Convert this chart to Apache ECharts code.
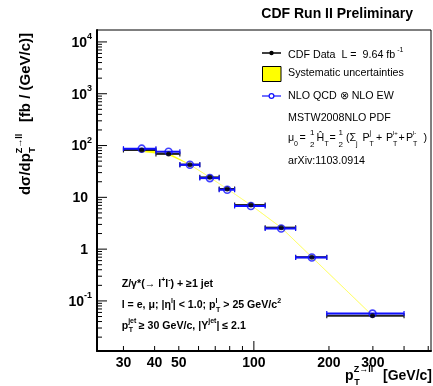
<!DOCTYPE html>
<html><head><meta charset="utf-8">
<script src="https://cdn.jsdelivr.net/npm/echarts@6/dist/echarts.min.js"></script>
<style>html,body{margin:0;padding:0;background:#fff}#c{width:433px;height:386px}</style>
</head><body><div id="c"></div>
<script>
// ---- data ----
const binLow    = [30, 40.5, 50.5, 60.7, 72.6, 83.7, 111, 147, 196];
const binHigh   = [40.5, 50.5, 60.7, 72.6, 83.7, 111, 147, 196, 400];
const binCenter = [35.5, 45.5, 55.4, 66.6, 78.2, 97.3, 128.7, 170.8, 299];
const dataY     = [82, 69, 42.8, 24.3, 14.5, 7.1, 2.6, 0.70, 0.052];
const predY     = [87, 76, 42.5, 23.5, 14.0, 6.8, 2.5, 0.69, 0.057];
const sysLow    = [76, 66, 42.6, 24.2, 14.45, 7.07, 2.59, 0.697, 0.0518];
const sysHigh   = [86, 71.5, 43.0, 24.4, 14.55, 7.13, 2.61, 0.703, 0.0522];

const xTickLabels = [30, 40, 50, 100, 200, 300];
const xMajorTicks = [100];
const xMinorTicks = [30, 40, 50, 60, 70, 80, 90, 200, 300, 400, 500];
const yDecades    = [0.1, 1, 10, 100, 1000, 10000];
const yLabelBase  = ['10', '1', '10', '10', '10', '10'];
const yLabelExp   = ['-1', '', '', '2', '3', '4'];

const X_MIN = 23.5, X_MAX = 513, Y_MIN = 0.0108, Y_MAX = 17000;
const FF = '"Liberation Sans", Arial, Helvetica, sans-serif';

const yMinorTicks = [];
[0.01, 0.1, 1, 10, 100, 1000, 10000].forEach(d => {
  for (let k = 2; k <= 9; k++) { const v = d * k; if (v > Y_MIN && v < Y_MAX) yMinorTicks.push(v); }
});

const chart = echarts.init(document.getElementById('c'), null, {renderer: 'canvas'});

const bandData = binCenter.slice(0, -1).map((c, i) =>
  [c, sysLow[i], sysHigh[i], binCenter[i + 1], sysLow[i + 1], sysHigh[i + 1]]);

function barSeries(yArr, color, z, lw) {
  return {
    type: 'custom', z: z, silent: true, clip: false,
    data: binLow.map((l, i) => [l, binHigh[i], yArr[i]]),
    encode: {x: [0, 1], y: 2},
    renderItem: (p, api) => {
      const y = api.value(2);
      const a = api.coord([api.value(0), y]), b = api.coord([api.value(1), y]);
      return {type: 'group', children: [
        {type: 'line', shape: {x1: a[0], y1: a[1], x2: b[0], y2: b[1]}, style: {stroke: color, lineWidth: lw}},
        {type: 'line', shape: {x1: a[0], y1: a[1] - 2.5, x2: a[0], y2: a[1] + 2.5}, style: {stroke: color, lineWidth: 1.2}},
        {type: 'line', shape: {x1: b[0], y1: b[1] - 2.5, x2: b[0], y2: b[1] + 2.5}, style: {stroke: color, lineWidth: 1.2}}
      ]};
    }
  };
}

const xTickData = xMinorTicks.map(v => [v, Y_MIN, 5]).concat(xMajorTicks.map(v => [v, Y_MIN, 10]));
const yTickData = yMinorTicks.map(v => [X_MIN, v, 5]).concat(yDecades.map(v => [X_MIN, v, 10]));

const supRich = {
  b: {fontSize: 14, fontWeight: 'bold', fontFamily: FF, lineHeight: 18, verticalAlign: 'bottom'},
  s: {fontSize: 9, fontWeight: 'bold', fontFamily: FF, lineHeight: 18, verticalAlign: 'top'}
};

const option = {
  animation: false,
  backgroundColor: '#fff',
  grid: {left: 97, right: 2, top: 30, bottom: 35, show: true, borderColor: '#000', borderWidth: 1},
  xAxis: {type: 'log', logBase: 10, min: X_MIN, max: X_MAX,
    axisLine: {show: true, lineStyle: {color: '#000', width: 2}},
    axisTick: {show: false}, axisLabel: {show: false}, splitLine: {show: false}},
  yAxis: {type: 'log', logBase: 10, min: Y_MIN, max: Y_MAX,
    axisLine: {show: true, lineStyle: {color: '#000', width: 2}},
    axisTick: {show: false}, axisLabel: {show: false}, splitLine: {show: false}},
  series: [
    // x ticks
    {type: 'custom', silent: true, clip: false, z: 3, data: xTickData, encode: {x: 0, y: 1},
      renderItem: (p, api) => { const c = api.coord([api.value(0), api.value(1)]); const L = api.value(2);
        return {type: 'line', shape: {x1: c[0], y1: c[1], x2: c[0], y2: c[1] - L}, style: {stroke: '#000', lineWidth: 1}}; }},
    // y ticks
    {type: 'custom', silent: true, clip: false, z: 3, data: yTickData, encode: {x: 0, y: 1},
      renderItem: (p, api) => { const c = api.coord([api.value(0), api.value(1)]); const L = api.value(2);
        return {type: 'line', shape: {x1: c[0], y1: c[1], x2: c[0] + L, y2: c[1]}, style: {stroke: '#000', lineWidth: 1}}; }},
    // x tick labels
    {type: 'custom', silent: true, clip: false, z: 3, data: xTickLabels.map(v => [v, Y_MIN]), encode: {x: 0, y: 1},
      renderItem: (p, api) => { const c = api.coord([api.value(0), api.value(1)]);
        return {type: 'text', style: {text: String(xTickLabels[p.dataIndex]), x: c[0], y: c[1] + 12,
          align: 'center', verticalAlign: 'middle', font: 'bold 14px ' + FF, fill: '#000'}}; }},
    // y tick labels
    {type: 'custom', silent: true, clip: false, z: 3, data: yDecades.map(v => [X_MIN, v]), encode: {x: 0, y: 1},
      renderItem: (p, api) => { const c = api.coord([api.value(0), api.value(1)]); const i = p.dataIndex;
        const e = yLabelExp[i];
        const txt = e ? '{b|' + yLabelBase[i] + '}{s|' + e + '}' : '{b|' + yLabelBase[i] + '}';
        return {type: 'text', style: {text: txt, rich: supRich, x: c[0] - (e ? 5 : 9), y: c[1] - 1,
          align: 'right', verticalAlign: 'middle', fill: '#000'}}; }},
    // systematic band
    {type: 'custom', silent: true, clip: false, z: 4, data: bandData, encode: {x: [0, 3], y: [1, 2, 4, 5]},
      renderItem: (p, api) => {
        const a = api.coord([api.value(0), api.value(2)]), b = api.coord([api.value(3), api.value(5)]);
        const c = api.coord([api.value(3), api.value(4)]), d = api.coord([api.value(0), api.value(1)]);
        return {type: 'polygon', shape: {points: [a, b, c, d]}, style: {fill: '#ffff00', stroke: '#ffff20', lineWidth: 0.3}}; }},
    barSeries(dataY, '#222', 5, 2),
    barSeries(predY, '#1010ff', 6, 2),
    {type: 'scatter', z: 7, silent: true, symbol: 'circle', symbolSize: 7,
      itemStyle: {color: 'rgba(255,255,255,0)', borderColor: '#1010ff', borderWidth: 1.6},
      data: binCenter.map((c, i) => [c, predY[i]])},
    {type: 'scatter', z: 8, silent: true, symbol: 'circle', symbolSize: 5,
      itemStyle: {color: '#000'},
      data: binCenter.map((c, i) => [c, dataY[i]])}
  ],
  graphic: []
};

const G = option.graphic;
function T(x, y, text, size, opts) {
  G.push(Object.assign({type: 'text', x: x, y: y, silent: true, style: Object.assign({text: text, fontSize: size,
    fontFamily: FF, fill: '#000', align: 'left', verticalAlign: 'middle'}, opts || {})}));
}
// title
T(413, 14, 'CDF Run II Preliminary', 14, {align: 'right', fontWeight: 'bold'});

// legend
const LF = 10.7;
G.push({type: 'line', silent: true, shape: {x1: 262, y1: 53, x2: 281, y2: 53}, style: {stroke: '#000', lineWidth: 1.5}});
G.push({type: 'circle', silent: true, shape: {cx: 271.5, cy: 53, r: 2.2}, style: {fill: '#000'}});
T(288, 53.5, '{n|CDF Data  L =  9.64 fb}{s| -1}', LF, {rich: {
  n: {fontSize: LF, fontFamily: FF, lineHeight: 14, verticalAlign: 'bottom'},
  s: {fontSize: 7, fontFamily: FF, lineHeight: 14, verticalAlign: 'top'}}});
G.push({type: 'rect', silent: true, shape: {x: 262.5, y: 66.5, width: 18.5, height: 15}, style: {fill: '#ffff00', stroke: '#000', lineWidth: 1}});
T(288, 73.5, 'Systematic uncertainties', LF);
G.push({type: 'line', silent: true, shape: {x1: 262, y1: 96, x2: 281, y2: 96}, style: {stroke: '#1010ff', lineWidth: 1.2}});
G.push({type: 'circle', silent: true, shape: {cx: 271.5, cy: 96, r: 2.4}, style: {fill: '#fff', stroke: '#1010ff', lineWidth: 1.2}});
T(288, 96.5, 'NLO QCD \u2297 NLO EW', LF);
T(288, 117.7, 'MSTW2008NLO PDF', LF);
// formula row
const fy = 138.5, sy = 144.5, py = 133;
T(288, fy, '\u03bc', LF);
T(294, sy, '0', 7);
T(299.5, fy, '=', LF);
T(310, py, '1', 8); T(310, sy, '2', 8);
T(316.5, fy, '\u0124', LF);
T(324.5, sy, 'T', 7);
T(329.5, fy, '=', LF);
T(338.5, py, '1', 8); T(338.5, sy, '2', 8);
T(346, fy, '(\u03a3', LF);
T(356, sy, 'j', 7);
T(362.5, fy, 'P', LF);
T(369.5, py, 'j', 7); T(369.5, sy, 'T', 7);
T(376, fy, '+', LF);
T(386, fy, 'P', LF);
T(393, py, 'l+', 6); T(393, sy, 'T', 7);
T(398.5, fy, '+', LF);
T(406, fy, 'P', LF);
T(413, py, 'l-', 6); T(413, sy, 'T', 7);
T(423.5, fy, ')', LF);
T(288, 161.5, 'arXiv:1103.0914', LF);

// bottom-left annotation
const BF = 10.6;
const BR = {
  n: {fontSize: BF, fontWeight: 'bold', fontFamily: FF, lineHeight: 16, verticalAlign: 'middle'},
  p: {fontSize: 7, fontWeight: 'bold', fontFamily: FF, lineHeight: 16, verticalAlign: 'top'},
  pz: {fontSize: 7, fontWeight: 'bold', fontFamily: FF, lineHeight: 16, verticalAlign: 'top', width: 0.5, align: 'left'},
  b: {fontSize: 7, fontWeight: 'bold', fontFamily: FF, lineHeight: 16, verticalAlign: 'bottom', align: 'left'}
};
T(121.7, 284.5, '{n|Z/\u03b3*(\u2192 l}{p|+}{n|l}{p|-}{n|) + \u22651 jet}', BF, {rich: BR});
T(121.7, 305.5, '{n|l = e, \u03bc; |\u03b7}{p|l}{n|| < 1.0; p}{pz|l}{b|T}{n| > 25 GeV/c}{p|2}', BF, {rich: BR});
T(121.7, 326, '{n|p}{pz|jet}{b|T}{n|  \u2265 30 GeV/c, |Y}{p|jet}{n|| \u2264 2.1}', BF, {rich: BR});

// axis titles
function axisRich(fs) {
  return {
    n: {fontSize: fs, fontWeight: 'bold', fontFamily: FF, lineHeight: 22, verticalAlign: 'middle', align: 'left'},
    pz: {fontSize: 9, fontWeight: 'bold', fontFamily: FF, lineHeight: 22, verticalAlign: 'top', width: 0.5, align: 'left'},
    b: {fontSize: 9, fontWeight: 'bold', fontFamily: FF, lineHeight: 22, verticalAlign: 'bottom', align: 'left'}
  };
}
T(432, 376, '{n|p}{pz|Z\u2192ll}{b|T}{n|      [GeV/c]}', 14, {rich: axisRich(14), align: 'right'});
G.push({type: 'text', x: 26, y: 114, rotation: Math.PI / 2, silent: true, style: {
  text: '{n|d\u03c3/dp}{pz|Z\u2192ll}{b|T}{n|      [fb / (GeV/c)]}', rich: axisRich(15), fill: '#000',
  align: 'center', verticalAlign: 'middle'}});

chart.setOption(option);
</script>
</body></html>
